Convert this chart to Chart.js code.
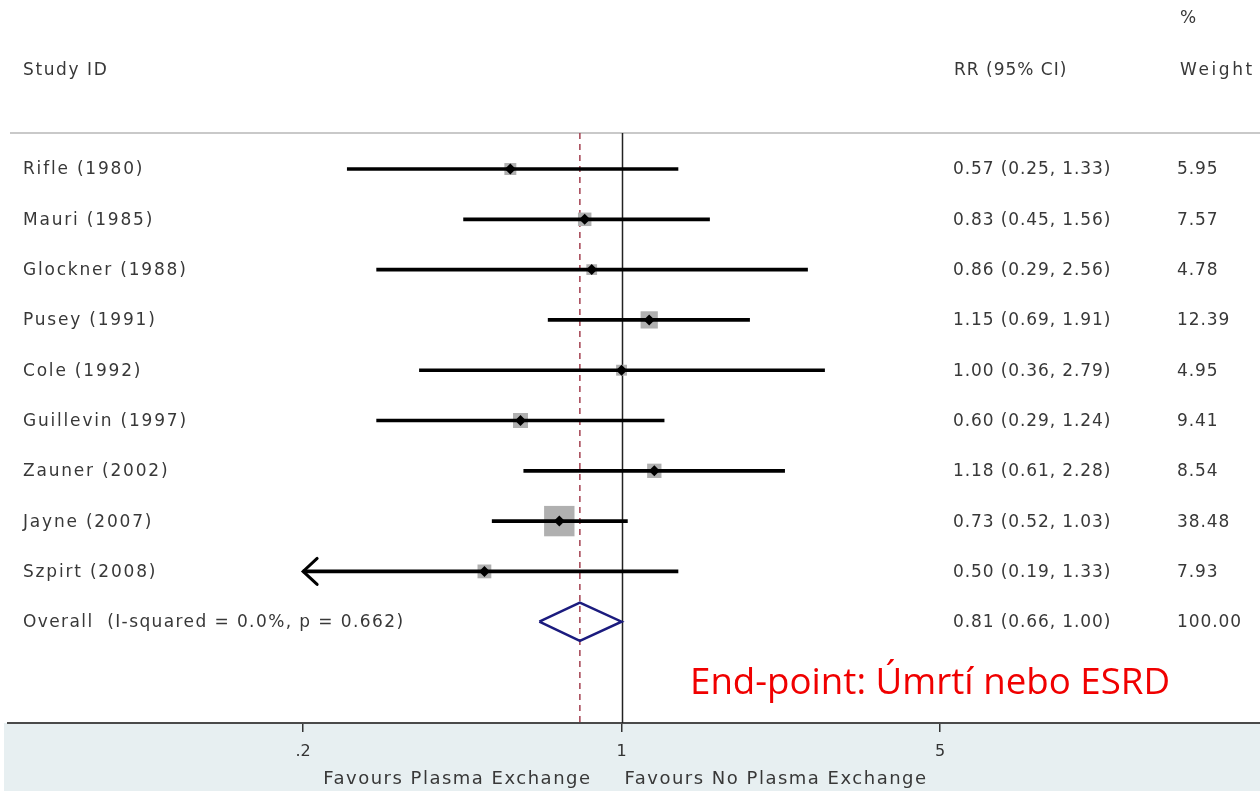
<!DOCTYPE html>
<html>
<head>
<meta charset="utf-8">
<script src="https://cdn.jsdelivr.net/npm/chart.js@4/dist/chart.umd.min.js"></script>
<style>
  html, body { margin: 0; padding: 0; background: #fff; }
  #wrap { width: 1260px; height: 791px; }
</style>
</head>
<body>
<div id="wrap"><canvas id="forest"></canvas></div>
<script>
// study rows
const studies = ['Rifle (1980)', 'Mauri (1985)', 'Glockner (1988)', 'Pusey (1991)', 'Cole (1992)',
                 'Guillevin (1997)', 'Zauner (2002)', 'Jayne (2007)', 'Szpirt (2008)'];
const rr      = [0.57, 0.83, 0.86, 1.15, 1.00, 0.60, 1.18, 0.73, 0.50];
const ciLow   = [0.25, 0.45, 0.29, 0.69, 0.36, 0.29, 0.61, 0.52, 0.19];
const ciHigh  = [1.33, 1.56, 2.56, 1.91, 2.79, 1.24, 2.28, 1.03, 1.33];
const weights = [5.95, 7.57, 4.78, 12.39, 4.95, 9.41, 8.54, 38.48, 7.93];

// pooled estimate
const overallLabel = 'Overall  (I-squared = 0.0%, p = 0.662)';
const overallRR = 0.81;
const overallLow = 0.66;
const overallHigh = 1.00;
const overallWeight = 100.00;

// axis
const xTicks = [0.2, 1, 5];
const xTickLabels = ['.2', '1', '5'];
const ciClip = 0.2;   // CIs beyond this get an arrow
const favLeft = 'Favours Plasma Exchange';
const favRight = 'Favours No Plasma Exchange';
const endPoint = 'End-point: Úmrtí nebo ESRD';

const rows = studies.map((s, i) => i);
const overallRow = studies.length;
const TXT = '#383838';
const FONT = '17px "DejaVu Sans"';

function fmt(v){ return v.toFixed(2); }

const forestText = {
  id: 'forestText',
  beforeDraw(chart){
    const {ctx, chartArea: a} = chart;
    ctx.save();
    ctx.fillStyle = '#e7eff1';
    ctx.fillRect(4, a.bottom, chart.width - 4, chart.height - a.bottom);
    // header rule
    ctx.strokeStyle = '#c9c9c9';
    ctx.lineWidth = 2;
    ctx.beginPath(); ctx.moveTo(10, a.top); ctx.lineTo(chart.width, a.top); ctx.stroke();
    ctx.restore();
  },
  beforeDatasetsDraw(chart){
    const {ctx, chartArea: a, scales: {x}} = chart;
    ctx.save();
    // line of no effect
    const x1 = Math.round(x.getPixelForValue(1)) + 0.5;
    ctx.strokeStyle = '#222';
    ctx.lineWidth = 1.5;
    ctx.beginPath(); ctx.moveTo(x1, a.top); ctx.lineTo(x1, a.bottom); ctx.stroke();
    // overall estimate
    const xo = x.getPixelForValue(overallRR);
    ctx.strokeStyle = '#a3404f';
    ctx.setLineDash([6, 5]);
    ctx.beginPath(); ctx.moveTo(xo, a.top); ctx.lineTo(xo, a.bottom); ctx.stroke();
    ctx.restore();
  },
  afterDatasetsDraw(chart){
    const {ctx, scales: {x, y}} = chart;
    ctx.save();
    ctx.strokeStyle = '#000';
    ctx.lineWidth = 3;
    ctx.lineCap = 'round';
    ciLow.forEach((lo, i) => {
      if (lo >= ciClip) return;
      const px = x.getPixelForValue(ciClip), py = y.getPixelForValue(rows[i]);
      ctx.beginPath();
      ctx.moveTo(px + 14, py - 13); ctx.lineTo(px, py); ctx.lineTo(px + 14, py + 13);
      ctx.stroke();
    });
    ctx.restore();
  },
  afterDraw(chart){
    const {ctx, scales: {x, y}} = chart;
    ctx.save();
    ctx.fillStyle = TXT;
    ctx.font = FONT;
    ctx.textBaseline = 'middle';
    ctx.textAlign = 'left';
    // headers
    ctx.letterSpacing = '1.6px';
    ctx.fillText('Study ID', 23, 71);
    ctx.letterSpacing = '1px';
    ctx.fillText('RR (95% CI)', 954, 71);
    ctx.fillText('%', 1180, 19);
    ctx.letterSpacing = '2.6px';
    ctx.fillText('Weight', 1180, 71);
    // rows
    const rrText = i => fmt(rr[i]) + ' (' + fmt(ciLow[i]) + ', ' + fmt(ciHigh[i]) + ')';
    studies.forEach((s, i) => {
      const py = y.getPixelForValue(rows[i]) + 1;
      ctx.letterSpacing = '1.8px';
      ctx.fillText(s, 23, py);
      ctx.letterSpacing = '0.9px';
      ctx.fillText(rrText(i), 953, py);
      ctx.fillText(fmt(weights[i]), 1177, py);
    });
    const po = y.getPixelForValue(overallRow) + 1;
    ctx.letterSpacing = '1.4px';
    ctx.fillText(overallLabel, 23, po);
    ctx.letterSpacing = '0.9px';
    ctx.fillText(fmt(overallRR) + ' (' + fmt(overallLow) + ', ' + fmt(overallHigh) + ')', 953, po);
    ctx.fillText(fmt(overallWeight), 1177, po);
    // favours labels
    const x1 = x.getPixelForValue(1);
    ctx.font = '18px "DejaVu Sans"';
    ctx.letterSpacing = '1.5px';
    ctx.textAlign = 'right';
    ctx.fillText(favLeft, x1 - 30, 779);
    ctx.textAlign = 'left';
    ctx.fillText(favRight, x1 + 3, 779);
    // end-point note
    ctx.letterSpacing = '0px';
    ctx.font = '36px "Open Sans"';
    ctx.fillStyle = '#f00000';
    ctx.textBaseline = 'alphabetic';
    const w = ctx.measureText(endPoint).width;
    ctx.translate(690, 694);
    ctx.scale(480 / w, 1);
    ctx.fillText(endPoint, 0, 0);
    ctx.restore();
  }
};

new Chart(document.getElementById('forest'), {
  type: 'scatter',
  data: {
    datasets: [
      { // weight squares
        type: 'scatter',
        data: rows.map(i => ({x: rr[i], y: i})),
        pointStyle: 'rect',
        pointRadius: weights.map(w => Math.sqrt(w) * 4.9 / 1.414),
        backgroundColor: '#b0b0b0',
        borderWidth: 0,
        order: 3
      },
      { // confidence intervals
        type: 'bar',
        indexAxis: 'y',
        data: rows.map(i => ({x: [Math.max(ciLow[i], ciClip), ciHigh[i]], y: i})),
        backgroundColor: '#000',
        borderWidth: 0,
        barThickness: 3,
        order: 2
      },
      { // point estimates
        type: 'scatter',
        data: rows.map(i => ({x: rr[i], y: i})),
        pointStyle: 'rectRot',
        pointRadius: 5.5,
        backgroundColor: '#000',
        borderWidth: 0,
        order: 1
      },
      { // pooled diamond
        type: 'line',
        data: [
          {x: overallLow, y: overallRow},
          {x: overallRR, y: overallRow - 0.38},
          {x: overallHigh, y: overallRow},
          {x: overallRR, y: overallRow + 0.38},
          {x: overallLow, y: overallRow}
        ],
        borderColor: '#1b1b7e',
        borderWidth: 2.5,
        pointRadius: 0,
        fill: false,
        tension: 0,
        order: 0
      }
    ]
  },
  options: {
    responsive: true,
    maintainAspectRatio: false,
    animation: false,
    events: [],
    layout: { autoPadding: false, padding: { top: 133, left: 8, right: 0, bottom: 0 } },
    plugins: { legend: { display: false }, tooltip: { enabled: false } },
    scales: {
      x: {
        type: 'logarithmic',
        min: 0.045,
        max: 25.2,
        offset: false,
        afterBuildTicks: s => { s.ticks = xTicks.map(v => ({value: v})); },
        afterFit: s => { s.height = 68; },
        ticks: {
          autoSkip: false,
          maxRotation: 0,
          padding: 10,
          color: '#333',
          font: { family: 'DejaVu Sans', size: 16 },
          callback: (v, i) => xTickLabels[i]
        },
        grid: { drawOnChartArea: false, drawTicks: true, tickLength: 9, color: '#333', lineWidth: 1.5 },
        border: { display: true, color: '#4a4a4a', width: 2 }
      },
      y: {
        type: 'linear',
        reverse: true,
        offset: false,
        min: -0.716,
        max: 11.014,
        display: false
      }
    }
  },
  plugins: [forestText]
});
</script>
</body>
</html>
